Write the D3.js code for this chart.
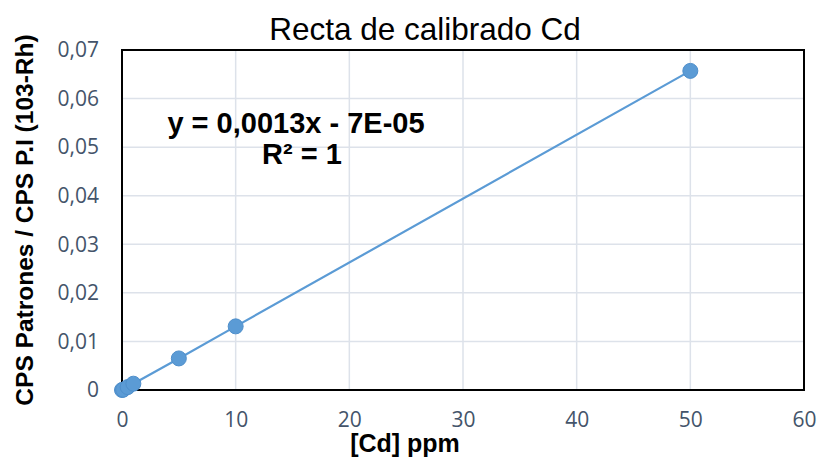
<!DOCTYPE html>
<html>
<head>
<meta charset="utf-8">
<script src="https://cdn.jsdelivr.net/npm/d3@7"></script>
<style>
  body { margin: 0; background: #fff; }
  svg { display: block; }
</style>
</head>
<body>
<svg id="chart"></svg>
<script>
// concentraciones de los patrones (ppm) y razon CPS patron / CPS P.I
const conc = [0, 0.1, 0.5, 1, 5, 10, 50];
const ratio = [0.0000, 0.00006, 0.0006, 0.0013, 0.0065, 0.0131, 0.0657];
const xTicks = [0, 10, 20, 30, 40, 50, 60];
const yTicks = [0, 0.01, 0.02, 0.03, 0.04, 0.05, 0.06, 0.07];

const W = 818, H = 457;
const m = { left: 122, top: 50, right: 14, bottom: 67 };

const svg = d3.select('#chart').attr('width', W).attr('height', H);

const x = d3.scaleLinear().domain([0, 60]).range([m.left, W - m.right]);
const y = d3.scaleLinear().domain([0, 0.07]).range([H - m.bottom, m.top]);

const fmt = d => d === 0 ? '0' : d3.format('.2f')(d).replace('.', ',');

// rejilla
svg.append('g')
  .selectAll('line.h')
  .data(yTicks)
  .join('line')
  .attr('x1', x(0)).attr('x2', x(60))
  .attr('y1', d => y(d)).attr('y2', d => y(d))
  .attr('stroke', '#dde2ea').attr('stroke-width', 1.5);
svg.append('g')
  .selectAll('line.v')
  .data(xTicks)
  .join('line')
  .attr('x1', d => x(d)).attr('x2', d => x(d))
  .attr('y1', y(0)).attr('y2', y(0.07))
  .attr('stroke', '#dde2ea').attr('stroke-width', 1.5);

// ejes
const xAxis = d3.axisBottom(x).tickValues(xTicks).tickSize(0).tickPadding(25);
const yAxis = d3.axisLeft(y).tickValues(yTicks).tickFormat(fmt).tickSize(0).tickPadding(23);

const gx = svg.append('g').attr('transform', `translate(0,${y(0)})`).call(xAxis);
const gy = svg.append('g').attr('transform', `translate(${x(0)},0)`).call(yAxis);
[gx, gy].forEach(g => {
  g.select('.domain').remove();
  g.selectAll('text')
    .attr('fill', '#44546a')
    .style('font-family', '"Open Sans", "Noto Sans", sans-serif')
    .style('font-size', '21px');
});
gx.selectAll('text').attr('dy', '0.55em');

// marco
svg.append('rect')
  .attr('x', x(0)).attr('y', y(0.07))
  .attr('width', x(60) - x(0)).attr('height', y(0) - y(0.07))
  .attr('fill', 'none').attr('stroke', '#000').attr('stroke-width', 2);

// linea y puntos
const line = d3.line().x((d, i) => x(conc[i])).y(d => y(d));
svg.append('path')
  .datum(ratio)
  .attr('d', line)
  .attr('fill', 'none')
  .attr('stroke', '#5b9bd5')
  .attr('stroke-width', 2.2);

svg.append('g')
  .selectAll('circle')
  .data(ratio)
  .join('circle')
  .attr('cx', (d, i) => x(conc[i]))
  .attr('cy', d => y(d))
  .attr('r', 7.5)
  .attr('fill', '#5b9bd5')
  .attr('stroke', '#4f8fcb')
  .attr('stroke-width', 1);

// textos
const sans = 'Arial, "Liberation Sans", sans-serif';
svg.append('text')
  .attr('x', 425).attr('y', 40)
  .attr('text-anchor', 'middle')
  .style('font-family', sans).style('font-size', '31.5px')
  .text('Recta de calibrado Cd');

svg.append('text')
  .attr('x', 296).attr('y', 133)
  .attr('text-anchor', 'middle')
  .style('font-family', sans).style('font-size', '29px').style('font-weight', 'bold')
  .text('y = 0,0013x - 7E-05');
svg.append('text')
  .attr('x', 302).attr('y', 164)
  .attr('text-anchor', 'middle')
  .style('font-family', sans).style('font-size', '29px').style('font-weight', 'bold')
  .text('R² = 1');

svg.append('text')
  .attr('x', 405).attr('y', 452)
  .attr('text-anchor', 'middle')
  .style('font-family', sans).style('font-size', '25px').style('font-weight', 'bold')
  .text('[Cd] ppm');

svg.append('text')
  .attr('transform', `translate(33,220) rotate(-90)`)
  .attr('text-anchor', 'middle')
  .style('font-family', sans).style('font-size', '24.5px').style('font-weight', 'bold')
  .text('CPS Patrones / CPS P.I (103-Rh)');
</script>
</body>
</html>
